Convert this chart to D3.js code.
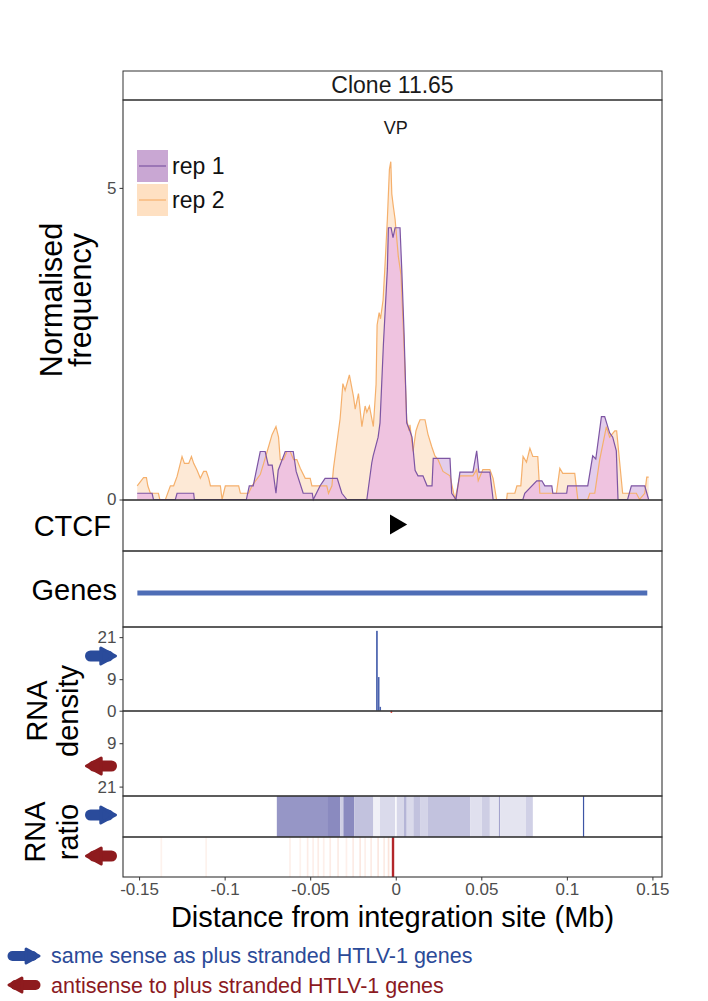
<!DOCTYPE html>
<html><head><meta charset="utf-8">
<script src="https://cdn.jsdelivr.net/npm/d3@7"></script>
<style>
body{margin:0;background:#fff;}
svg{display:block;font-family:"Liberation Sans",Arial,Helvetica,sans-serif;}
</style></head>
<body><svg id="c" width="708" height="1001"></svg>
<script>
// ---------------- DATA ----------------
const title = "Clone 11.65";
const seriesNames = ["rep 1", "rep 2"];
// Normalised frequency (positions in Mb from integration site)
const rep1X = [-0.1511,-0.1424,-0.1416,-0.1288,-0.1278,-0.1181,-0.1177,-0.0873,-0.0856,-0.0833,-0.0792,-0.0763,-0.0745,-0.0722,-0.0700,-0.0687,-0.0646,-0.0599,-0.0582,-0.0541,-0.0488,-0.0482,-0.0442,-0.0413,-0.0342,-0.0315,-0.0286,-0.0169,-0.0140,-0.0132,-0.0103,-0.0092,-0.0072,-0.0049,-0.0043,-0.0027,-0.0016,-0.0004,0.0025,0.0035,0.0048,0.0064,0.0083,0.0095,0.0113,0.0130,0.0159,0.0183,0.0212,0.0219,0.0317,0.0327,0.0352,0.0375,0.0451,0.0473,0.0486,0.0550,0.0569,0.0743,0.0754,0.0824,0.0854,0.0871,0.0912,0.0918,0.0999,0.1005,0.1122,0.1151,0.1169,0.1202,0.1221,0.1250,0.1268,0.1289,0.1299,0.1355,0.1377,0.1455,0.1478];
const rep1Y = [0.1,0.1,0,0,0.1,0.1,0,0,0.22,0.22,0.77,0.77,0.55,0.55,0.1,0.47,0.77,0.77,0.45,0.1,0.1,0,0.22,0.34,0.34,0.1,0,0,0.59,0.7,1.0,1.23,2.5,3.7,4.36,4.36,4.2,4.36,4.36,3.7,2.72,1.23,1.1,1.0,0.47,0.38,0.38,0.22,0.22,0.66,0.66,0.1,0,0.44,0.44,0.78,0.44,0.44,0,0,0.1,0.3,0.3,0.22,0.22,0.1,0.1,0.22,0.22,0.7,0.65,1.33,1.33,1.07,1.0,0.78,0,0,0.22,0.22,0];
const rep2X = [-0.1511,-0.1474,-0.1457,-0.1449,-0.1434,-0.1387,-0.1379,-0.1346,-0.1317,-0.1298,-0.1278,-0.1249,-0.1235,-0.1210,-0.1194,-0.1181,-0.1161,-0.1142,-0.1123,-0.1107,-0.1093,-0.1083,-0.1025,-0.1015,-0.0996,-0.0918,-0.0908,-0.0860,-0.0840,-0.0792,-0.0772,-0.0743,-0.0723,-0.0700,-0.0685,-0.0675,-0.0656,-0.0636,-0.0617,-0.0597,-0.0578,-0.0558,-0.0529,-0.0500,-0.0490,-0.0403,-0.0393,-0.0373,-0.0364,-0.0325,-0.0309,-0.0296,-0.0271,-0.0247,-0.0237,-0.0218,-0.0198,-0.0179,-0.0169,-0.0154,-0.0131,-0.0115,-0.0109,-0.0097,-0.0089,-0.0074,-0.0062,-0.0049,-0.0037,-0.0029,-0.0023,-0.0014,-0.0004,0.0015,0.0031,0.0048,0.0064,0.0078,0.0083,0.0101,0.0118,0.0130,0.0142,0.0171,0.0188,0.0210,0.0229,0.0247,0.0276,0.0317,0.0346,0.0375,0.0451,0.0473,0.0482,0.0509,0.0550,0.0569,0.0589,0.0648,0.0652,0.0696,0.0708,0.0731,0.0744,0.0764,0.0784,0.0801,0.0830,0.0842,0.0939,0.0959,0.0976,0.1046,0.1064,0.1122,0.1134,0.1163,0.1192,0.1231,0.1250,0.1280,0.1291,0.1326,0.1406,0.1425,0.1455,0.1467,0.1478];
const rep2Y = [0.22,0.35,0.35,0.22,0.1,0.1,0,0,0.22,0.22,0.37,0.69,0.58,0.58,0.69,0.58,0.47,0.34,0.45,0.45,0.34,0.22,0.22,0,0.22,0.22,0.1,0.1,0.22,0.4,0.58,0.85,1.04,1.17,1.0,0.64,0.64,0.77,0.77,0.64,0.64,0.5,0.34,0.34,0.22,0.22,0.1,0.22,0.5,1.3,1.86,1.75,2.0,1.65,1.45,1.7,1.17,1.5,1.4,1.5,1.17,1.85,2.8,3.0,2.9,3.2,3.8,4.5,5.3,5.42,4.9,4.7,4.5,3.9,3.6,2.5,1.28,1.1,1.2,0.77,1.1,1.2,1.28,1.28,1.05,0.85,0.7,0.64,0.45,0.38,0,0.38,0.38,0.48,0.3,0.48,0.48,0.34,0,0,0.1,0.1,0.22,0.22,0.69,0.6,0.82,0.69,0.69,0.1,0.1,0.5,0.42,0.42,0,0,0.1,0.1,0.64,1.17,1.0,1.1,1.1,0.1,0.1,0,0.1,0.36,0.36];
const yTicksMain = [0, 5];
// CTCF sites (position, orientation)
const ctcfPos = [0.0];
const ctcfDir = ["+"];
// Genes (start, end)
const geneStart = [-0.151];
const geneEnd = [0.147];
// RNA density (bin start, bin width, value)
const densPlusX = [-0.0115, -0.0104, -0.0095];
const densPlusW = [0.0010, 0.0009, 0.0009];
const densPlusV = [22.8, 9.6, 1.1];
const densMinusX = [-0.0030];
const densMinusW = [0.0009];
const densMinusV = [0.6];
const densTicks = [0, 9, 21];
// RNA ratio stripes (start, end, intensity 0-1)
const ratioPlusStart = [-0.0695,-0.0396,-0.0325,-0.0306,-0.0243,-0.0131,-0.0092,-0.0004,0.0006,0.0048,0.0064,0.0103,0.0142,0.0188,0.0436,0.0502,0.0550,0.0603,0.0610,0.0760,0.1094];
const ratioPlusEnd   = [-0.0396,-0.0325,-0.0306,-0.0243,-0.0131,-0.0092,-0.0004,0.0006,0.0048,0.0064,0.0103,0.0142,0.0188,0.0436,0.0502,0.0550,0.0603,0.0610,0.0760,0.0801,0.1101];
const ratioPlusVal   = [0.85,0.95,0.4,0.95,0.5,0.12,0.3,0.05,0.32,0.6,0.3,0.5,0.35,0.5,0.25,0.4,0.2,0.75,0.22,0.38,1.3];
const ratioMinusStart = [-0.1375,-0.1113,-0.0623,-0.0563,-0.0520,-0.0488,-0.0458,-0.0426,-0.0388,-0.0342,-0.0293,-0.0254,-0.0213,-0.0184,-0.0149,-0.0108,-0.0073,-0.0047,-0.0023];
const ratioMinusEnd   = [-0.1365,-0.1103,-0.0613,-0.0553,-0.0510,-0.0478,-0.0448,-0.0416,-0.0378,-0.0332,-0.0283,-0.0244,-0.0203,-0.0174,-0.0139,-0.0098,-0.0063,-0.0037,-0.0009];
const ratioMinusVal   = [0.07,0.07,0.08,0.07,0.1,0.08,0.1,0.08,0.1,0.1,0.08,0.1,0.12,0.08,0.1,0.12,0.1,0.14,1.0];
const xTicks = [-0.15,-0.1,-0.05,0,0.05,0.1,0.15];
const xTickLabels = ["-0.15","-0.1","-0.05","0","0.05","0.1","0.15"];

// ---------------- LAYOUT ----------------
const svg = d3.select("#c");
const L = 123, R = 662;
const P = {strip:[71,100], main:[100,500], ctcf:[500,551], genes:[551,627], dUp:[627,711], dDn:[711,796], rUp:[796,837], rDn:[837,877]};
const x = d3.scaleLinear().domain([-0.1594, 0.1556]).range([L, R]);
const yMain = d3.scaleLinear().domain([0, 6.41]).range([499.5, P.main[0]]);
const yUp = d3.scaleLinear().domain([0, 23.9]).range([710.7, P.dUp[0]]);
const yDn = d3.scaleLinear().domain([0, 23.6]).range([710.7, P.dDn[1]]);
const tickCol = "#4D4D4D";

// strip
svg.append("rect").attr("x",L).attr("y",P.strip[0]).attr("width",R-L).attr("height",P.strip[1]-P.strip[0]).attr("fill","#fff").attr("stroke","#333").attr("stroke-width",1);
svg.append("text").attr("x",(L+R)/2).attr("y",93).attr("text-anchor","middle").attr("font-size",23).attr("fill","#1a1a1a").text(title);

// main area
const rep1 = rep1X.map((v,i)=>[v,rep1Y[i]]);
const rep2 = rep2X.map((v,i)=>[v,rep2Y[i]]);
const area = d3.area().x(d=>x(d[0])).y0(yMain(0)).y1(d=>yMain(d[1]));
const line = d3.line().x(d=>x(d[0])).y(d=>yMain(d[1]));
const defs = svg.append("defs");
defs.append("clipPath").attr("id","rep2clip").append("path").attr("d", area(rep2));
svg.append("path").attr("d",area(rep2)).attr("fill","#FDE9D6");
svg.append("path").attr("d",area(rep1)).attr("fill","#E3CDEB");
svg.append("path").attr("d",area(rep1)).attr("fill","#EFC3E0").attr("clip-path","url(#rep2clip)");
svg.append("path").attr("d",line(rep2)).attr("fill","none").attr("stroke","#F5B06C").attr("stroke-width",1.2);
svg.append("path").attr("d",line(rep1)).attr("fill","none").attr("stroke","#7D55A3").attr("stroke-width",1.2);

// VP label
svg.append("text").attr("x",x(0)).attr("y",134).attr("text-anchor","middle").attr("font-size",18).attr("fill","#1a1a1a").text("VP");

// legend in main
const legCols = [["#C9A7D3","#7D55A3"],["#FEE0C2","#F5B06C"]];
seriesNames.forEach((s,i)=>{
  const ty = 150 + i*34;
  svg.append("rect").attr("x",137).attr("y",ty).attr("width",31).attr("height",32).attr("fill",legCols[i][0]);
  svg.append("line").attr("x1",139).attr("x2",166).attr("y1",ty+16).attr("y2",ty+16).attr("stroke",legCols[i][1]).attr("stroke-width",1.2);
  svg.append("text").attr("x",172).attr("y",ty+24).attr("font-size",23).attr("fill","#111").text(s);
});

// main y ticks
const gyM = svg.append("g").attr("transform",`translate(${L},0)`).call(d3.axisLeft(yMain).tickValues(yTicksMain).tickSize(3.5).tickPadding(3).tickFormat(d3.format("d")));
gyM.select(".domain").remove();

// CTCF
ctcfPos.forEach((p,i)=>{
  svg.append("path").attr("d",d3.symbol(d3.symbolTriangle,170)()).attr("fill","#000")
    .attr("transform",`translate(${x(p)},${(P.ctcf[0]+P.ctcf[1])/2-1}) rotate(${ctcfDir[i]==="+"?90:-90})`);
});
// Genes
geneStart.forEach((g,i)=>{
  svg.append("line").attr("x1",x(g)).attr("x2",x(geneEnd[i])).attr("y1",593).attr("y2",593).attr("stroke","#4E6DB6").attr("stroke-width",5);
});

// density bars
densPlusX.forEach((v,i)=>{
  svg.append("rect").attr("x",x(v)).attr("width",x(v+densPlusW[i])-x(v)).attr("y",yUp(densPlusV[i])).attr("height",yUp(0)-yUp(densPlusV[i])).attr("fill","#4A62AE");
});
densMinusX.forEach((v,i)=>{
  svg.append("rect").attr("x",x(v)).attr("width",x(v+densMinusW[i])-x(v)).attr("y",yDn(0)).attr("height",yDn(densMinusV[i])-yDn(0)).attr("fill","#E8392E");
});
const gU = svg.append("g").attr("transform",`translate(${L},0)`).call(d3.axisLeft(yUp).tickValues(densTicks).tickSize(3.5).tickPadding(3));
gU.select(".domain").remove();
const gD = svg.append("g").attr("transform",`translate(${L},0)`).call(d3.axisLeft(yDn).tickValues(densTicks.slice(1)).tickSize(3.5).tickPadding(3));
gD.select(".domain").remove();

// ratio stripes
const blueC = d3.interpolateRgb("#ffffff","#8484BC");
ratioPlusStart.forEach((s,i)=>{
  const v = ratioPlusVal[i];
  svg.append("rect").attr("x",x(s)).attr("width",Math.max(0.8,x(ratioPlusEnd[i])-x(s))).attr("y",P.rUp[0]).attr("height",P.rUp[1]-P.rUp[0])
    .attr("fill", v>1 ? "#3D55A5" : blueC(v));
});
const redC = d3.interpolateRgb("#ffffff","#B3262A");
ratioMinusStart.forEach((s,i)=>{
  svg.append("rect").attr("x",x(s)).attr("width",x(ratioMinusEnd[i])-x(s)).attr("y",P.rDn[0]).attr("height",P.rDn[1]-P.rDn[0])
    .attr("fill", ratioMinusVal[i]<0.5 ? d3.interpolateRgb("#ffffff","#F0A080")(ratioMinusVal[i]*2) : redC(ratioMinusVal[i]));
});

// panel borders
["main","ctcf","genes","dUp","dDn","rUp","rDn"].forEach(k=>{
  svg.append("rect").attr("x",L).attr("y",P[k][0]).attr("width",R-L).attr("height",P[k][1]-P[k][0]).attr("fill","none").attr("stroke","#333").attr("stroke-width",1.1);
});

// x axis
const gx = svg.append("g").attr("transform",`translate(0,${P.rDn[1]})`).call(d3.axisBottom(x).tickValues(xTicks).tickSize(3.5).tickPadding(2).tickFormat((d,i)=>xTickLabels[i]));
gx.select(".domain").remove();
svg.selectAll(".tick text").attr("font-size",17).attr("fill",tickCol).attr("font-family","Liberation Sans, Arial, sans-serif");
svg.selectAll(".tick line").attr("stroke","#333");

// axis titles
svg.append("text").attr("x",(L+R)/2).attr("y",927).attr("text-anchor","middle").attr("font-size",29).attr("fill","#000").text("Distance from integration site (Mb)");
function vtext(lines, xs, cy, size){
  lines.forEach((t,i)=>{
    svg.append("text").attr("transform",`translate(${xs[i]},${cy}) rotate(-90)`).attr("text-anchor","middle").attr("font-size",size).attr("fill","#000").text(t);
  });
}
vtext(["Normalised","frequency"],[62,91],300,30.5);
vtext(["RNA","density"],[47,78],711,29);
vtext(["RNA","ratio"],[45,78],832,29);
svg.append("text").attr("x",111).attr("y",536).attr("text-anchor","end").attr("font-size",29).attr("fill","#000").text("CTCF");
svg.append("text").attr("x",117).attr("y",600).attr("text-anchor","end").attr("font-size",29).attr("fill","#000").text("Genes");

// arrows
function arrow(cx, cy, dir, color, w, h){
  const g = svg.append("g").attr("transform",`translate(${cx},${cy}) scale(${dir},1)`);
  const sh = h*0.62;
  g.append("line").attr("x1",-w/2+sh/2).attr("x2",w/2-h*0.5).attr("y1",0).attr("y2",0).attr("stroke",color).attr("stroke-width",sh).attr("stroke-linecap","round");
  g.append("path").attr("d",`M${w/2-h*0.9},${-h/2+1} L${w/2-1.5},0 L${w/2-h*0.9},${h/2-1} Z`).attr("fill",color).attr("stroke",color).attr("stroke-width",3).attr("stroke-linejoin","round");
}
const blueA = "#2A4B9B", redA = "#8E1B1E";
arrow(101,656,1,blueA,32,18);
arrow(101,766,-1,redA,32,18);
arrow(101,815,1,blueA,32,18);
arrow(101,856,-1,redA,32,18);
arrow(24,956,1,blueA,33,16);
arrow(24,985,-1,redA,33,16);
svg.append("text").attr("x",51).attr("y",963).attr("font-size",21.5).attr("fill","#2B4A98").text("same sense as plus stranded HTLV-1 genes");
svg.append("text").attr("x",51).attr("y",993).attr("font-size",21.5).attr("fill","#8B1A1F").text("antisense to plus stranded HTLV-1 genes");
</script></body></html>
